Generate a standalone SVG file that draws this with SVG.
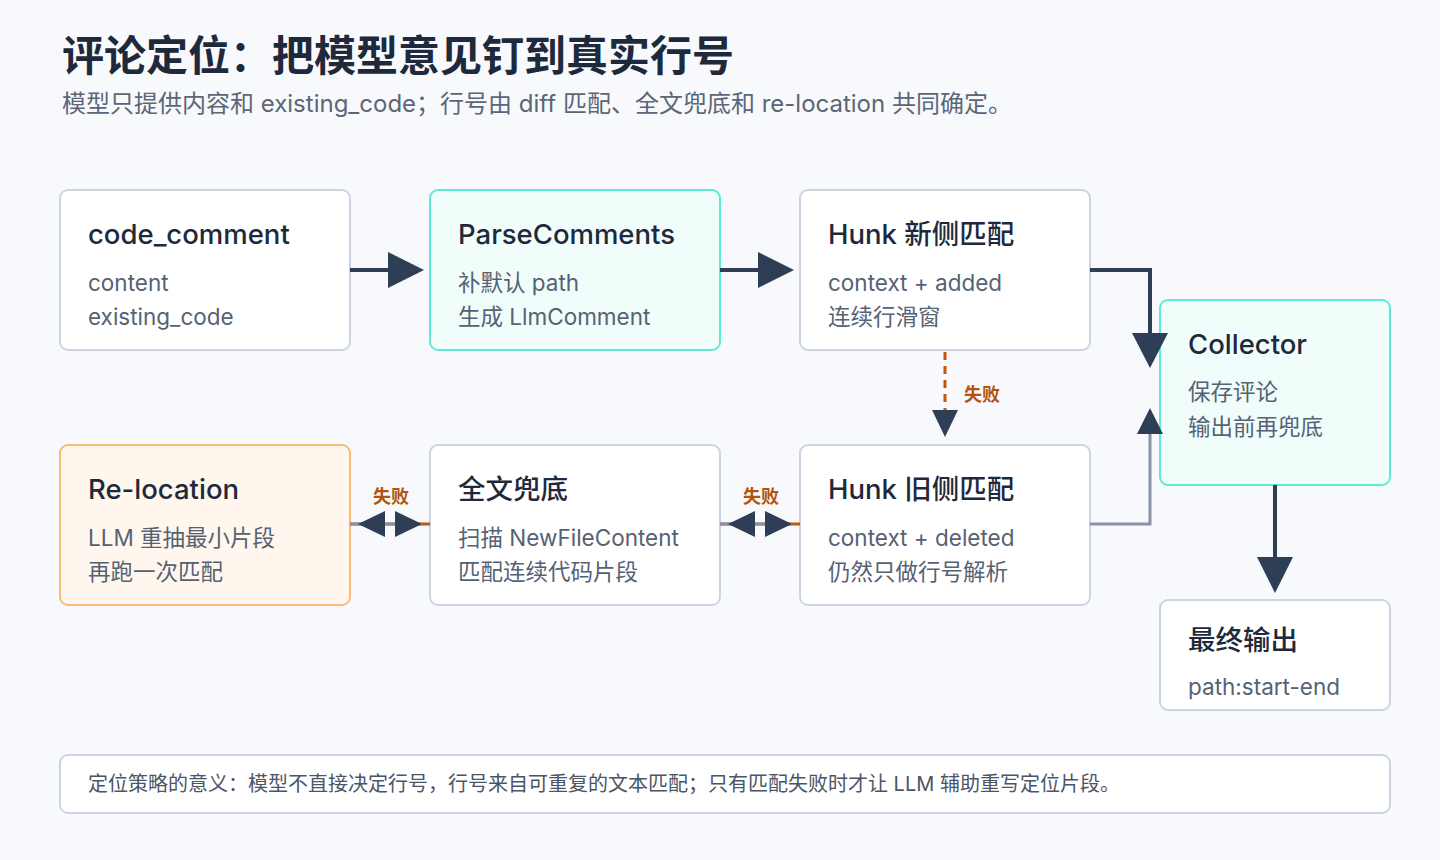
<svg xmlns="http://www.w3.org/2000/svg" width="1440" height="860" viewBox="0 0 1440 860">
<defs>
<style>
.bg{fill:#f7f9fc}
.box{fill:#ffffff;stroke:#cbd5e1;stroke-width:2}
.teal{fill:#f0fdfa;stroke:#5eead4;stroke-width:2}
.orange{fill:#fff7ed;stroke:#fdba74;stroke-width:2}
.t{font-family:"Inter","Noto Sans CJK SC",sans-serif;font-size:27.5px;font-weight:500;fill:#1e293b}
.s{font-family:"Inter","Noto Sans CJK SC",sans-serif;font-size:22.5px;fill:#556274}
.h1{font-family:"Inter","Noto Sans CJK SC",sans-serif;font-size:42px;font-weight:700;fill:#1e293b}
.sub{font-family:"Inter","Noto Sans CJK SC",sans-serif;font-size:24px;fill:#5b6677}
.foot{font-family:"Inter","Noto Sans CJK SC",sans-serif;font-size:20px;fill:#4b5566}
.lbl{font-family:"Inter","Noto Sans CJK SC",sans-serif;font-size:18px;font-weight:600;fill:#b4530f}
.dark{stroke:#2e3e55;stroke-width:4;fill:none}
.grey{stroke:#8792a6;stroke-width:3;fill:none}
.fail{stroke:#c2570c;stroke-width:3;fill:none}
.head{fill:#2e3e55}
</style>
</defs>
<rect class="bg" x="0" y="0" width="1440" height="860"/>
<text class="h1" x="62" y="71">评论定位：把模型意见钉到真实行号</text>
<text class="sub" x="62" y="112">模型只提供内容和 existing_code；行号由 diff 匹配、全文兜底和 re-location 共同确定。</text>

<g id="node-code_comment">
<rect class="box" x="60" y="190" width="290" height="160" rx="8"/>
<text class="t" x="88" y="244">code_comment</text>
<text class="s" x="88" y="291">content</text>
<text class="s" x="88" y="325">existing_code</text>
</g>
<g id="node-parse">
<rect class="teal" x="430" y="190" width="290" height="160" rx="8"/>
<text class="t" x="458" y="244">ParseComments</text>
<text class="s" x="458" y="291">补默认 path</text>
<text class="s" x="458" y="325">生成 LlmComment</text>
</g>
<g id="node-hunk-new">
<rect class="box" x="800" y="190" width="290" height="160" rx="8"/>
<text class="t" x="828" y="244">Hunk 新侧匹配</text>
<text class="s" x="828" y="291">context + added</text>
<text class="s" x="828" y="325">连续行滑窗</text>
</g>
<g id="node-collector">
<rect class="teal" x="1160" y="300" width="230" height="185" rx="8"/>
<text class="t" x="1188" y="354">Collector</text>
<text class="s" x="1188" y="400">保存评论</text>
<text class="s" x="1188" y="435">输出前再兜底</text>
</g>
<g id="node-relocation">
<rect class="orange" x="60" y="445" width="290" height="160" rx="8"/>
<text class="t" x="88" y="499">Re-location</text>
<text class="s" x="88" y="546">LLM 重抽最小片段</text>
<text class="s" x="88" y="580">再跑一次匹配</text>
</g>
<g id="node-fulltext">
<rect class="box" x="430" y="445" width="290" height="160" rx="8"/>
<text class="t" x="458" y="499">全文兜底</text>
<text class="s" x="458" y="546">扫描 NewFileContent</text>
<text class="s" x="458" y="580">匹配连续代码片段</text>
</g>
<g id="node-hunk-old">
<rect class="box" x="800" y="445" width="290" height="160" rx="8"/>
<text class="t" x="828" y="499">Hunk 旧侧匹配</text>
<text class="s" x="828" y="546">context + deleted</text>
<text class="s" x="828" y="580">仍然只做行号解析</text>
</g>
<g id="node-final">
<rect class="box" x="1160" y="600" width="230" height="110" rx="8"/>
<text class="t" x="1188" y="650">最终输出</text>
<text class="s" x="1188" y="695">path:start-end</text>
</g>
<g id="node-footer">
<rect class="box" x="60" y="755" width="1330" height="58" rx="8"/>
<text class="foot" x="88" y="791">定位策略的意义：模型不直接决定行号，行号来自可重复的文本匹配；只有匹配失败时才让 LLM 辅助重写定位片段。</text>
</g>

<g id="connectors">
<line class="dark" x1="350" y1="270" x2="392" y2="270"/>
<polygon class="head" points="388,252 424,270 388,288"/>
<line class="dark" x1="720" y1="270" x2="762" y2="270"/>
<polygon class="head" points="758,252 794,270 758,288"/>
<path class="dark" d="M1090 270 H1150 V337"/>
<polygon class="head" points="1132,333 1168,333 1150,368"/>
<line class="fail" x1="945" y1="352" x2="945" y2="410" stroke-dasharray="8 6"/>
<polygon class="head" points="932,410 958,410 945,437"/>
<text class="lbl" x="964" y="401">失败</text>
<path class="grey" d="M1090 524 H1150 V432"/>
<polygon class="head" points="1137,434 1163,434 1150,408"/>
<line class="dark" x1="1275" y1="485" x2="1275" y2="560"/>
<polygon class="head" points="1257,557 1293,557 1275,593"/>
<line class="fail" x1="350" y1="524" x2="430" y2="524"/>
<line class="grey" x1="350" y1="524" x2="422" y2="524"/>
<polygon class="head" points="385,511 358,524 385,537"/>
<polygon class="head" points="395,511 422,524 395,537"/>
<text class="lbl" x="391" y="503" text-anchor="middle">失败</text>
<line class="fail" x1="720" y1="524" x2="800" y2="524"/>
<line class="grey" x1="720" y1="524" x2="792" y2="524"/>
<polygon class="head" points="755,511 728,524 755,537"/>
<polygon class="head" points="765,511 792,524 765,537"/>
<text class="lbl" x="761" y="503" text-anchor="middle">失败</text>
</g>
</svg>
